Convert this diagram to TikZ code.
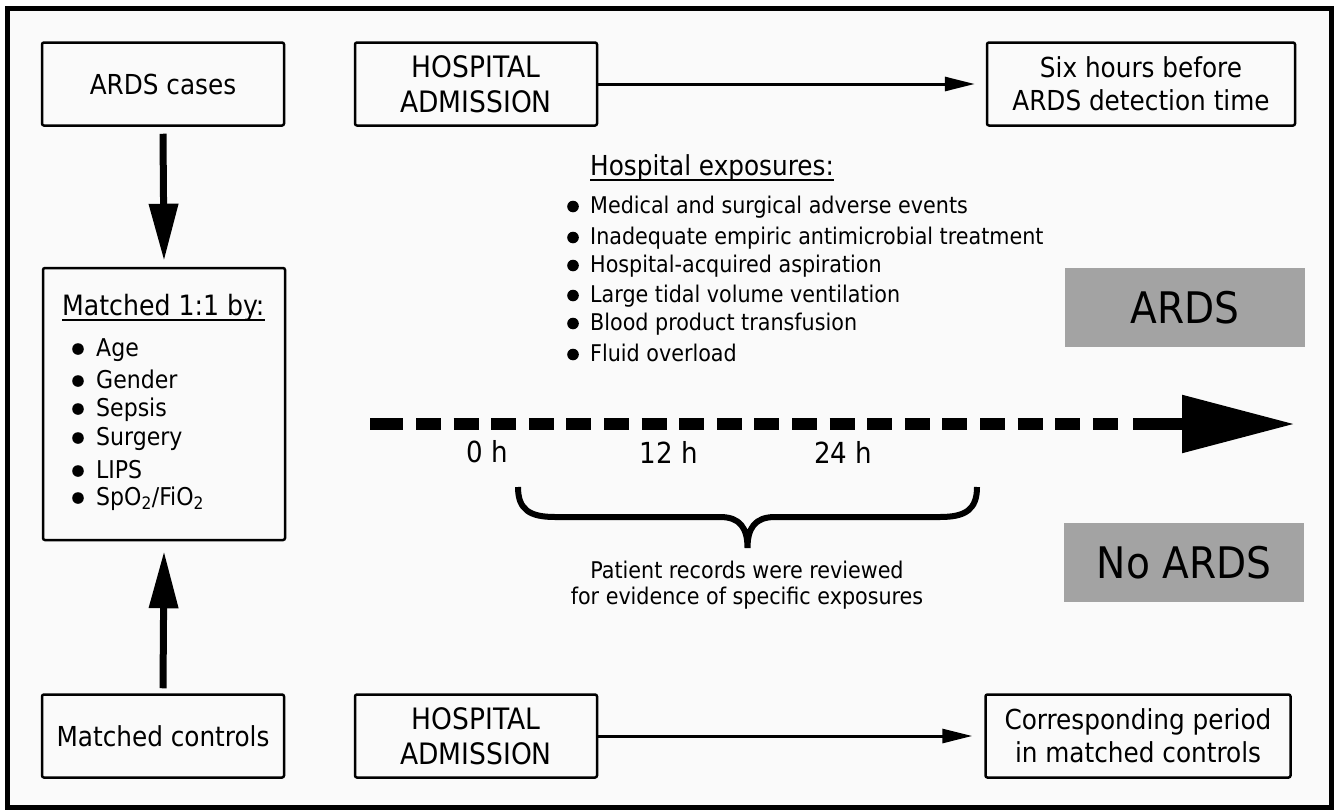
\documentclass[tikz,border=0pt]{standalone}
\usepackage{fontspec}
\setmainfont{DejaVu Sans Condensed}
\usetikzlibrary{arrows.meta}
\definecolor{bg}{RGB}{250,250,250}
\definecolor{boxgray}{RGB}{163,163,163}
\tikzset{
  box/.style={draw=black, line width=2.5pt, rounded corners=2pt, fill=bg,
    minimum width=242pt, minimum height=83pt, inner sep=0pt, align=center,
    font=\fontsize{27.5}{33}\selectfont},
  hbox/.style={box, font=\fontsize{29.5}{35}\selectfont},
  graybox/.style={fill=boxgray, minimum width=240pt, minimum height=79pt,
    inner sep=0pt, font=\fontsize{43.5}{50}\selectfont},
  txt/.style={inner sep=0pt},
  headtxt/.style={txt, anchor=base west, font=\fontsize{27.5}{33}\selectfont},
  itemtxt/.style={txt, anchor=base west, font=\fontsize{23}{27}\selectfont},
  mitemtxt/.style={txt, anchor=base west, font=\fontsize{24.5}{29}\selectfont},
  hourtxt/.style={txt, font=\fontsize{29}{30}\selectfont},
  bigarrow/.style={line width=7pt, -{Triangle[length=57pt,width=28pt]}},
  thinarrow/.style={line width=3pt, -{Triangle[length=30pt,width=14pt]}},
  ulinestyle/.style={line width=1.5pt},
  timeline/.style={line width=12pt},
}
\begin{document}
\begin{tikzpicture}[x=1pt,y=-1pt]
\useasboundingbox (0,0) rectangle (1339,811);
\fill[white] (0,0) rectangle (1339,811);
\draw[line width=5pt, fill=bg] (7.5,8) rectangle (1331.5,807);

% boxes
\node[box] (cases) at (163,84) {ARDS cases};
\node[hbox] (hosp1) at (476,84) {HOSPITAL\\ADMISSION};
\node[box, minimum width=308pt] (six) at (1141,84) {Six hours before\\ARDS detection time};
\node[box, minimum height=272pt] (matched) at (164,404) {};
\node[box] (controls) at (163,736) {Matched controls};
\node[hbox] (hosp2) at (476,736) {HOSPITAL\\ADMISSION};
\node[box, minimum width=305pt] (corr) at (1138,736) {Corresponding period\\in matched controls};

% arrows
\draw[bigarrow] ([yshift=-7pt]cases.south) -- ([yshift=6pt]matched.north);
\draw[bigarrow] ([yshift=5pt]controls.north) -- ([yshift=-10pt]matched.south);
\draw[thinarrow] (hosp1.east) -- ([xshift=-11pt]six.west);
\draw[thinarrow] (hosp2.east) -- ([xshift=-12pt]corr.west);

% matched box content
\node[headtxt, font=\fontsize{28}{33}\selectfont] (mh) at (62,315) {Matched 1:1 by:};
\draw[ulinestyle] ([yshift=-5pt]mh.base west) -- ([yshift=-5pt]mh.base east);
\foreach \yy/\txtv [count=\i] in {356/Age, 388/Gender, 416/Sepsis, 445/Surgery, 478/LIPS,
    505/{SpO\textsubscript{2}/FiO\textsubscript{2}}} {
  \node[mitemtxt] (m\i) at (96,\yy) {\txtv};
  \fill (78,{\yy-7}) circle (5.8pt);
}

% hospital exposures
\node[headtxt] (exph) at (590,175) {Hospital exposures:};
\draw[ulinestyle] ([yshift=-5pt]exph.base west) -- ([yshift=-5pt]exph.base east);
\foreach \yy/\txtv [count=\i] in {213/Medical and surgical adverse events,
    244/Inadequate empiric antimicrobial treatment,
    272/Hospital-acquired aspiration,
    302/Large tidal volume ventilation,
    330/Blood product transfusion,
    361/Fluid overload} {
  \node[itemtxt] (e\i) at (590,\yy) {\txtv};
  \fill (573,{\yy-6.5}) circle (5.8pt);
}

% outcome boxes
\node[graybox] (ards) at (1185,307.5) {ARDS};
\node[graybox] (noards) at (1184,562.5) {No ARDS};

% timeline
\coordinate (d0) at (370,424);
\coordinate (d1) at (403,424);
\coordinate (d2) at (416,424);
\coordinate (d3) at (1118,424);
\coordinate (a0) at (1133,424);
\coordinate (a1) at (1295,424);
\draw[timeline] (d0) -- (d1);
\draw[timeline, dash pattern=on 25pt off 12.6pt] (d2) -- (d3);
\draw[timeline, -{Triangle[length=113pt,width=55pt]}] (a0) -- (a1);

\node[hourtxt] (h0) at (487,452) {0 h};
\node[hourtxt] (h12) at (669,452) {12 h};
\node[hourtxt] (h24) at (843,452) {24 h};

% brace
\draw[line width=6pt] (518,487) .. controls (518,510) and (530,517) .. (555,517)
  -- (720,517) .. controls (740,517) and (747.5,528) .. (747.5,548)
  .. controls (747.5,528) and (755,517) .. (775,517)
  -- (940,517) .. controls (965,517) and (977,510) .. (977,487);

\node[txt, align=center, font=\fontsize{23}{26}\selectfont] (rev) at (747,585)
  {Patient records were reviewed\\for evidence of specific exposures};
\end{tikzpicture}
\end{document}
